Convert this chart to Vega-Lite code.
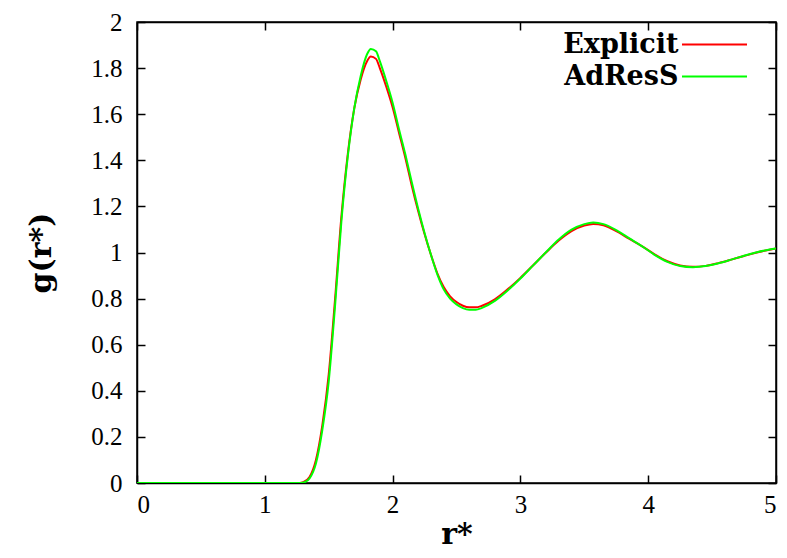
{
  "$schema": "https://vega.github.io/schema/vega-lite/v6.json",
  "autosize": {"type": "none"},
  "width": 639,
  "height": 461,
  "padding": {"left": 137, "top": 22, "right": 11, "bottom": 75},
  "background": "white",
  "config": {
    "view": {"stroke": "black", "strokeWidth": 1.5},
    "axis": {
      "grid": false,
      "domainColor": "black",
      "domainWidth": 1.5,
      "tickColor": "black",
      "tickWidth": 1.5,
      "tickSize": -8,
      "labelFont": "Liberation Serif",
      "labelFontSize": 25,
      "labelColor": "black",
      "titleFont": "DejaVu Serif",
      "titleFontSize": 30,
      "titleFontWeight": "bold",
      "titleColor": "black"
    }
  },
  "datasets": {
    "gr": [
      {"r": 0, "g": 0, "s": "Explicit"},
      {"r": 1.0, "g": 0, "s": "Explicit"},
      {"r": 1.27, "g": 0, "s": "Explicit"},
      {"r": 1.30, "g": 0.003, "s": "Explicit"},
      {"r": 1.35, "g": 0.026, "s": "Explicit"},
      {"r": 1.40, "g": 0.10, "s": "Explicit"},
      {"r": 1.45, "g": 0.25, "s": "Explicit"},
      {"r": 1.50, "g": 0.47, "s": "Explicit"},
      {"r": 1.55, "g": 0.80, "s": "Explicit"},
      {"r": 1.60, "g": 1.16, "s": "Explicit"},
      {"r": 1.65, "g": 1.43, "s": "Explicit"},
      {"r": 1.70, "g": 1.625, "s": "Explicit"},
      {"r": 1.75, "g": 1.75, "s": "Explicit"},
      {"r": 1.80, "g": 1.83, "s": "Explicit"},
      {"r": 1.83, "g": 1.85, "s": "Explicit"},
      {"r": 1.87, "g": 1.84, "s": "Explicit"},
      {"r": 1.90, "g": 1.80, "s": "Explicit"},
      {"r": 1.95, "g": 1.72, "s": "Explicit"},
      {"r": 2.00, "g": 1.63, "s": "Explicit"},
      {"r": 2.05, "g": 1.52, "s": "Explicit"},
      {"r": 2.10, "g": 1.41, "s": "Explicit"},
      {"r": 2.15, "g": 1.29, "s": "Explicit"},
      {"r": 2.20, "g": 1.18, "s": "Explicit"},
      {"r": 2.25, "g": 1.08, "s": "Explicit"},
      {"r": 2.30, "g": 0.99, "s": "Explicit"},
      {"r": 2.35, "g": 0.91, "s": "Explicit"},
      {"r": 2.40, "g": 0.85, "s": "Explicit"},
      {"r": 2.45, "g": 0.81, "s": "Explicit"},
      {"r": 2.50, "g": 0.785, "s": "Explicit"},
      {"r": 2.55, "g": 0.769, "s": "Explicit"},
      {"r": 2.60, "g": 0.762, "s": "Explicit"},
      {"r": 2.65, "g": 0.762, "s": "Explicit"},
      {"r": 2.70, "g": 0.769, "s": "Explicit"},
      {"r": 2.80, "g": 0.797, "s": "Explicit"},
      {"r": 2.90, "g": 0.840, "s": "Explicit"},
      {"r": 3.00, "g": 0.890, "s": "Explicit"},
      {"r": 3.10, "g": 0.945, "s": "Explicit"},
      {"r": 3.20, "g": 1.000, "s": "Explicit"},
      {"r": 3.30, "g": 1.052, "s": "Explicit"},
      {"r": 3.40, "g": 1.093, "s": "Explicit"},
      {"r": 3.50, "g": 1.117, "s": "Explicit"},
      {"r": 3.57, "g": 1.124, "s": "Explicit"},
      {"r": 3.65, "g": 1.118, "s": "Explicit"},
      {"r": 3.75, "g": 1.093, "s": "Explicit"},
      {"r": 3.85, "g": 1.060, "s": "Explicit"},
      {"r": 3.95, "g": 1.028, "s": "Explicit"},
      {"r": 4.05, "g": 0.992, "s": "Explicit"},
      {"r": 4.15, "g": 0.962, "s": "Explicit"},
      {"r": 4.25, "g": 0.944, "s": "Explicit"},
      {"r": 4.35, "g": 0.938, "s": "Explicit"},
      {"r": 4.45, "g": 0.942, "s": "Explicit"},
      {"r": 4.55, "g": 0.954, "s": "Explicit"},
      {"r": 4.65, "g": 0.969, "s": "Explicit"},
      {"r": 4.75, "g": 0.985, "s": "Explicit"},
      {"r": 4.85, "g": 1.000, "s": "Explicit"},
      {"r": 4.95, "g": 1.012, "s": "Explicit"},
      {"r": 5.00, "g": 1.017, "s": "Explicit"},
      {"r": 0, "g": 0, "s": "AdResS"},
      {"r": 1.0, "g": 0, "s": "AdResS"},
      {"r": 1.28, "g": 0, "s": "AdResS"},
      {"r": 1.31, "g": 0.003, "s": "AdResS"},
      {"r": 1.35, "g": 0.020, "s": "AdResS"},
      {"r": 1.40, "g": 0.085, "s": "AdResS"},
      {"r": 1.45, "g": 0.23, "s": "AdResS"},
      {"r": 1.50, "g": 0.44, "s": "AdResS"},
      {"r": 1.55, "g": 0.77, "s": "AdResS"},
      {"r": 1.60, "g": 1.14, "s": "AdResS"},
      {"r": 1.65, "g": 1.42, "s": "AdResS"},
      {"r": 1.70, "g": 1.625, "s": "AdResS"},
      {"r": 1.75, "g": 1.765, "s": "AdResS"},
      {"r": 1.80, "g": 1.86, "s": "AdResS"},
      {"r": 1.83, "g": 1.883, "s": "AdResS"},
      {"r": 1.87, "g": 1.873, "s": "AdResS"},
      {"r": 1.90, "g": 1.83, "s": "AdResS"},
      {"r": 1.95, "g": 1.745, "s": "AdResS"},
      {"r": 2.00, "g": 1.65, "s": "AdResS"},
      {"r": 2.05, "g": 1.535, "s": "AdResS"},
      {"r": 2.10, "g": 1.425, "s": "AdResS"},
      {"r": 2.15, "g": 1.305, "s": "AdResS"},
      {"r": 2.20, "g": 1.19, "s": "AdResS"},
      {"r": 2.25, "g": 1.085, "s": "AdResS"},
      {"r": 2.30, "g": 0.99, "s": "AdResS"},
      {"r": 2.35, "g": 0.905, "s": "AdResS"},
      {"r": 2.40, "g": 0.84, "s": "AdResS"},
      {"r": 2.45, "g": 0.80, "s": "AdResS"},
      {"r": 2.50, "g": 0.775, "s": "AdResS"},
      {"r": 2.55, "g": 0.759, "s": "AdResS"},
      {"r": 2.60, "g": 0.752, "s": "AdResS"},
      {"r": 2.65, "g": 0.752, "s": "AdResS"},
      {"r": 2.70, "g": 0.760, "s": "AdResS"},
      {"r": 2.80, "g": 0.790, "s": "AdResS"},
      {"r": 2.90, "g": 0.835, "s": "AdResS"},
      {"r": 3.00, "g": 0.887, "s": "AdResS"},
      {"r": 3.10, "g": 0.944, "s": "AdResS"},
      {"r": 3.20, "g": 1.001, "s": "AdResS"},
      {"r": 3.30, "g": 1.056, "s": "AdResS"},
      {"r": 3.40, "g": 1.099, "s": "AdResS"},
      {"r": 3.50, "g": 1.123, "s": "AdResS"},
      {"r": 3.57, "g": 1.130, "s": "AdResS"},
      {"r": 3.65, "g": 1.123, "s": "AdResS"},
      {"r": 3.75, "g": 1.097, "s": "AdResS"},
      {"r": 3.85, "g": 1.062, "s": "AdResS"},
      {"r": 3.95, "g": 1.028, "s": "AdResS"},
      {"r": 4.05, "g": 0.990, "s": "AdResS"},
      {"r": 4.15, "g": 0.959, "s": "AdResS"},
      {"r": 4.25, "g": 0.941, "s": "AdResS"},
      {"r": 4.35, "g": 0.936, "s": "AdResS"},
      {"r": 4.45, "g": 0.941, "s": "AdResS"},
      {"r": 4.55, "g": 0.953, "s": "AdResS"},
      {"r": 4.65, "g": 0.969, "s": "AdResS"},
      {"r": 4.75, "g": 0.986, "s": "AdResS"},
      {"r": 4.85, "g": 1.001, "s": "AdResS"},
      {"r": 4.95, "g": 1.013, "s": "AdResS"},
      {"r": 5.00, "g": 1.017, "s": "AdResS"}
    ]
  },
  "data": {"name": "gr"},
  "layer": [
    {
      "transform": [{"filter": "datum.s === 'Explicit'"}],
      "mark": {"type": "line", "strokeWidth": 2, "clip": true, "interpolate": "monotone"},
      "encoding": {
        "x": {"field": "r", "type": "quantitative", "scale": {"domain": [0, 5], "nice": false},
              "axis": {"orient": "bottom", "title": "r*", "values": [0, 1, 2, 3, 4, 5], "format": "~g", "labelPadding": 17, "labelDx": 4, "titlePadding": 2}},
        "y": {"field": "g", "type": "quantitative", "scale": {"domain": [0, 2], "nice": false},
              "axis": {"orient": "left", "title": "g(r*)", "values": [0, 0.2, 0.4, 0.6, 0.8, 1, 1.2, 1.4, 1.6, 1.8, 2], "format": "~g", "labelPadding": 23, "labelDy": -2, "titlePadding": 34}},
        "color": {"field": "s", "type": "nominal",
                  "scale": {"domain": ["Explicit", "AdResS"], "range": ["#ff0000", "#00ff00"]},
                  "legend": {
                    "orient": "none", "legendX": 564, "legendY": 9, "title": null,
                    "symbolType": "M-6.5,0H6.5", "symbolSize": 100, "symbolStrokeWidth": 2,
                    "labelAlign": "right", "labelOffset": -49.5,
                    "labelFont": "DejaVu Serif", "labelFontSize": 27, "labelFontWeight": "bold", "labelColor": "black",
                    "rowPadding": 4, "padding": 0, "labelLimit": 300
                  }},
        "order": {"field": "r", "type": "quantitative"}
      }
    },
    {
      "transform": [{"filter": "datum.s === 'AdResS'"}],
      "mark": {"type": "line", "strokeWidth": 2, "clip": true, "interpolate": "monotone"},
      "encoding": {
        "x": {"field": "r", "type": "quantitative",
              "axis": {"orient": "top", "title": null, "labels": false, "values": [0, 1, 2, 3, 4, 5]}},
        "y": {"field": "g", "type": "quantitative",
              "axis": {"orient": "right", "title": null, "labels": false, "values": [0, 0.2, 0.4, 0.6, 0.8, 1, 1.2, 1.4, 1.6, 1.8, 2]}},
        "color": {"field": "s", "type": "nominal"},
        "order": {"field": "r", "type": "quantitative"}
      }
    }
  ],
  "resolve": {"axis": {"x": "independent", "y": "independent"}}
}
